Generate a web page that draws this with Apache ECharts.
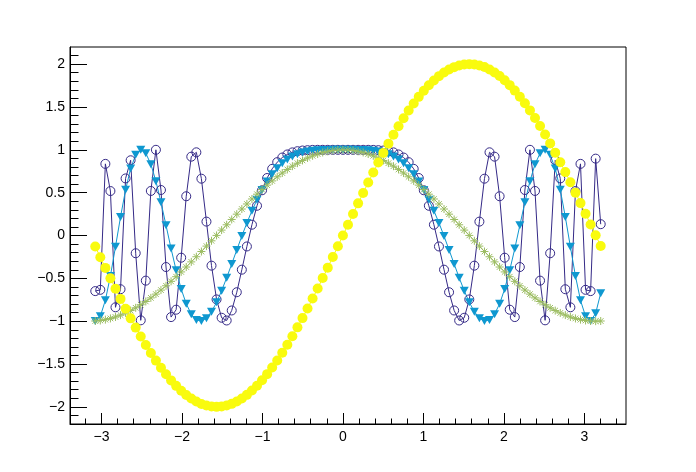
<!DOCTYPE html>
<html>
<head>
<meta charset="utf-8">
<script src="https://cdn.jsdelivr.net/npm/echarts@6/dist/echarts.min.js"></script>
<style>
html,body{margin:0;padding:0;background:#fff;}
#chart{width:696px;height:472px;}
</style>
</head>
<body>
<div id="chart"></div>
<script>
// x positions of the points
const xs = [
-3.0772,-3.0144,-2.9516,-2.8888,-2.826,-2.7632,-2.7004,-2.6376,-2.5748,-2.512,
-2.4492,-2.3864,-2.3236,-2.2608,-2.198,-2.1352,-2.0724,-2.0096,-1.9468,-1.884,
-1.8212,-1.7584,-1.6956,-1.6328,-1.57,-1.5072,-1.4444,-1.3816,-1.3188,-1.256,
-1.1932,-1.1304,-1.0676,-1.0048,-0.942,-0.8792,-0.8164,-0.7536,-0.6908,-0.628,
-0.5652,-0.5024,-0.4396,-0.3768,-0.314,-0.2512,-0.1884,-0.1256,-0.0628,0,
0.0628,0.1256,0.1884,0.2512,0.314,0.3768,0.4396,0.5024,0.5652,0.628,
0.6908,0.7536,0.8164,0.8792,0.942,1.0048,1.0676,1.1304,1.1932,1.256,
1.3188,1.3816,1.4444,1.5072,1.57,1.6328,1.6956,1.7584,1.8212,1.884,
1.9468,2.0096,2.0724,2.1352,2.198,2.2608,2.3236,2.3864,2.4492,2.512,
2.5748,2.6376,2.7004,2.7632,2.826,2.8888,2.9516,3.0144,3.0772,3.14,3.2028];

// yellow filled circles
const yYellow = [
-0.129,-0.254,-0.378,-0.500,-0.621,-0.740,-0.855,-0.967,-1.075,-1.179,
-1.278,-1.372,-1.460,-1.543,-1.620,-1.691,-1.755,-1.811,-1.861,-1.903,
-1.938,-1.966,-1.985,-1.996,-2.000,-1.996,-1.984,-1.965,-1.937,-1.902,
-1.860,-1.810,-1.753,-1.689,-1.618,-1.541,-1.458,-1.369,-1.275,-1.176,
-1.072,-0.964,-0.852,-0.736,-0.618,-0.497,-0.375,-0.251,-0.126,0,
0.126,0.251,0.375,0.497,0.618,0.736,0.852,0.964,1.072,1.176,
1.275,1.369,1.458,1.541,1.618,1.689,1.753,1.810,1.860,1.902,
1.937,1.965,1.984,1.996,2.000,1.996,1.985,1.966,1.938,1.903,
1.861,1.811,1.755,1.691,1.620,1.543,1.460,1.372,1.278,1.179,
1.075,0.967,0.855,0.740,0.621,0.500,0.378,0.254,0.129,0.003,-0.122];

// green stars
const yGreen = [
-0.998,-0.992,-0.982,-0.968,-0.951,-0.929,-0.904,-0.876,-0.844,-0.808,
-0.770,-0.728,-0.684,-0.637,-0.587,-0.535,-0.481,-0.425,-0.368,-0.308,
-0.248,-0.187,-0.124,-0.062,0.001,0.063,0.125,0.187,0.249,0.309,
0.368,0.426,0.482,0.536,0.588,0.637,0.685,0.729,0.771,0.809,
0.844,0.876,0.905,0.930,0.951,0.969,0.982,0.992,0.998,1,
0.998,0.992,0.982,0.969,0.951,0.930,0.905,0.876,0.844,0.809,
0.771,0.729,0.685,0.637,0.588,0.536,0.482,0.426,0.368,0.309,
0.249,0.187,0.125,0.063,0.001,-0.062,-0.124,-0.187,-0.248,-0.308,
-0.368,-0.425,-0.481,-0.535,-0.587,-0.637,-0.684,-0.728,-0.770,-0.808,
-0.844,-0.876,-0.904,-0.929,-0.951,-0.968,-0.982,-0.992,-0.998,-1.000,-0.998];

// cyan down-triangles
const yCyan = [
-0.999,-0.943,-0.756,-0.472,-0.132,0.217,0.533,0.782,0.941,1.000,
0.960,0.832,0.634,0.388,0.119,-0.153,-0.406,-0.624,-0.797,-0.918,
-0.985,-0.999,-0.965,-0.889,-0.780,-0.645,-0.493,-0.332,-0.168,-0.007,
0.147,0.289,0.418,0.532,0.631,0.716,0.786,0.843,0.888,0.923,
0.949,0.968,0.981,0.990,0.995,0.998,0.999,1.000,1.000,1,
1.000,1.000,0.999,0.998,0.995,0.990,0.981,0.968,0.949,0.923,
0.888,0.843,0.786,0.716,0.631,0.532,0.418,0.289,0.147,-0.007,
-0.168,-0.332,-0.493,-0.645,-0.780,-0.889,-0.965,-0.999,-0.985,-0.918,
-0.797,-0.624,-0.406,-0.153,0.119,0.388,0.634,0.832,0.960,1.000,
0.941,0.782,0.533,0.217,-0.132,-0.472,-0.756,-0.943,-0.999,-0.907,-0.673];

// dark blue open circles
const yBlue = [
-0.649,-0.634,0.836,0.519,-0.838,-0.627,0.666,0.878,-0.207,-0.990,
-0.527,0.520,1.000,0.531,-0.368,-0.952,-0.866,-0.259,0.458,0.920,
0.971,0.663,0.162,-0.352,-0.746,-0.960,-0.992,-0.875,-0.662,-0.399,
-0.128,0.126,0.347,0.528,0.671,0.778,0.856,0.910,0.946,0.970,
0.984,0.992,0.996,0.999,1.000,1.000,1.000,1.000,1.000,1,
1.000,1.000,1.000,1.000,1.000,0.999,0.996,0.992,0.984,0.970,
0.946,0.910,0.856,0.778,0.671,0.528,0.347,0.126,-0.128,-0.399,
-0.662,-0.875,-0.992,-0.960,-0.746,-0.352,0.162,0.663,0.971,0.920,
0.458,-0.259,-0.866,-0.952,-0.368,0.531,1.000,0.520,-0.527,-0.990,
-0.207,0.878,0.666,-0.627,-0.838,0.519,0.836,-0.634,-0.649,0.897,0.132];

// axis ticks
const xMajor = [-3,-2,-1,0,1,2,3];
const xMinor = [-3.2,-2.8,-2.6,-2.4,-2.2,-1.8,-1.6,-1.4,-1.2,-0.8,-0.6,-0.4,-0.2,
  0.2,0.4,0.6,0.8,1.2,1.4,1.6,1.8,2.2,2.4,2.6,2.8,3.2,3.4];
const yMajor = [-2,-1.5,-1,-0.5,0,0.5,1,1.5,2];
const yMinor = [-2.1,-1.9,-1.8,-1.7,-1.6,-1.4,-1.3,-1.2,-1.1,-0.9,-0.8,-0.7,-0.6,
  -0.4,-0.3,-0.2,-0.1,0.1,0.2,0.3,0.4,0.6,0.7,0.8,0.9,1.1,1.2,1.3,1.4,1.6,1.7,1.8,1.9,2.1];

const X_MIN = -3.391, X_MAX = 3.517, Y_MIN = -2.2, Y_MAX = 2.2;
const FONT = "'Liberation Sans', Arial, Helvetica, sans-serif";
const C_BLUE = '#352a87', C_CYAN = '#0f98d0', C_GREEN = '#9cbd62', C_YELLOW = '#f9fb0e';

const pairs = ys => xs.map((x, i) => [x, ys[i]]);
const fmt = v => (v < 0 ? '\u2212' + String(Math.abs(v)) : String(v));

const chart = echarts.init(document.getElementById('chart'), null, {renderer: 'canvas'});

const majorX = {
  type: 'value', min: X_MIN, max: X_MAX, position: 'bottom',
  axisLine: {show: true, onZero: false, lineStyle: {color: '#000', width: 1}},
  axisTick: {show: true, inside: true, length: 11, customValues: xMajor, lineStyle: {color: '#000', width: 1}},
  axisLabel: {show: true, customValues: xMajor, formatter: fmt, margin: 6, color: '#000', fontSize: 14, fontFamily: FONT},
  splitLine: {show: false}
};
const minorX = {
  type: 'value', min: X_MIN, max: X_MAX, position: 'bottom',
  axisLine: {show: false, onZero: false},
  axisTick: {show: true, inside: true, length: 5.5, customValues: xMinor, lineStyle: {color: '#000', width: 1}},
  axisLabel: {show: false},
  splitLine: {show: false}
};
const majorY = {
  type: 'value', min: Y_MIN, max: Y_MAX, position: 'left',
  axisLine: {show: true, onZero: false, lineStyle: {color: '#000', width: 1}},
  axisTick: {show: true, inside: true, length: 17, customValues: yMajor, lineStyle: {color: '#000', width: 1}},
  axisLabel: {show: true, customValues: yMajor, formatter: fmt, margin: 5, color: '#000', fontSize: 14, fontFamily: FONT},
  splitLine: {show: false}
};
const minorY = {
  type: 'value', min: Y_MIN, max: Y_MAX, position: 'left',
  axisLine: {show: false, onZero: false},
  axisTick: {show: true, inside: true, length: 8.5, customValues: yMinor, lineStyle: {color: '#000', width: 1}},
  axisLabel: {show: false},
  splitLine: {show: false}
};

const base = {
  type: 'line', xAxisIndex: 0, yAxisIndex: 0, showAllSymbol: true,
  animation: false, emphasis: {disabled: true}, silent: true
};

chart.setOption({
  backgroundColor: '#fff',
  animation: false,
  grid: {left: 70, right: 70, top: 47, bottom: 48, show: true, borderColor: '#000', borderWidth: 1, backgroundColor: 'transparent'},
  xAxis: [majorX, minorX],
  yAxis: [majorY, minorY],
  series: [
    Object.assign({}, base, {
      name: 'cos(x^3)', data: pairs(yBlue), symbol: 'circle', symbolSize: 9,
      itemStyle: {color: 'transparent', borderColor: C_BLUE, borderWidth: 1},
      lineStyle: {color: C_BLUE, width: 1}
    }),
    Object.assign({}, base, {
      name: 'cos(x^2)', data: pairs(yCyan), symbol: 'triangle', symbolRotate: 180, symbolSize: [9, 8],
      itemStyle: {color: C_CYAN},
      lineStyle: {color: C_CYAN, width: 1}
    }),
    Object.assign({}, base, {
      name: 'cos(x)', data: pairs(yGreen),
      symbol: 'path://M0,5L10,5M5,0L5,10M1.5,1.5L8.5,8.5M8.5,1.5L1.5,8.5', symbolSize: 8,
      itemStyle: {color: 'transparent', borderColor: C_GREEN, borderWidth: 1},
      lineStyle: {color: C_GREEN, width: 1}
    }),
    Object.assign({}, base, {
      name: '2sin(x)', data: pairs(yYellow), symbol: 'circle', symbolSize: 10,
      itemStyle: {color: C_YELLOW},
      lineStyle: {color: C_YELLOW, width: 1}
    })
  ]
});
</script>
</body>
</html>
